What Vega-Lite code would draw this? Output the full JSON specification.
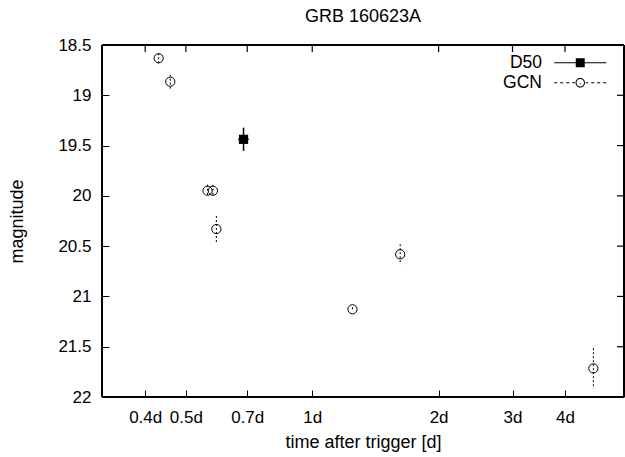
{
  "$schema": "https://vega.github.io/schema/vega-lite/v6.json",
  "width": 522,
  "height": 352,
  "autosize": "none",
  "padding": {"left": 102, "top": 45, "right": 1, "bottom": 60},
  "background": "white",
  "config": {
    "font": "Liberation Sans",
    "view": {"stroke": null},
    "axis": {
      "grid": false,
      "domainColor": "black",
      "tickColor": "black",
      "labelColor": "black",
      "titleColor": "black",
      "labelFontSize": 17,
      "titleFontSize": 18,
      "titleFontWeight": "normal",
      "labelFlush": false,
      "labelOverlap": false,
      "tickSize": -7
    }
  },
  "title": {"text": "GRB 160623A", "fontSize": 18, "fontWeight": "normal", "color": "black", "anchor": "middle", "offset": 10},
  "layer": [
    {
      "data": {"values": [
        {"series": "GCN", "t": 0.4306, "mag": 18.632, "err": 0.05, "terr": 0},
        {"series": "GCN", "t": 0.459, "mag": 18.865, "err": 0.07, "terr": 0},
        {"series": "GCN", "t": 0.563, "mag": 19.949, "err": 0.06, "terr": 0},
        {"series": "GCN", "t": 0.580, "mag": 19.949, "err": 0.06, "terr": 0},
        {"series": "GCN", "t": 0.591, "mag": 20.33, "err": 0.13, "terr": 0},
        {"series": "GCN", "t": 1.247, "mag": 21.128, "err": 0.02, "terr": 0},
        {"series": "GCN", "t": 1.62, "mag": 20.581, "err": 0.1, "terr": 0},
        {"series": "GCN", "t": 4.675, "mag": 21.715, "err": 0.2, "terr": 0},
        {"series": "D50", "t": 0.686, "mag": 19.438, "err": 0.116, "terr": 0.02}
      ]},
      "encoding": {
        "x": {"field": "t", "type": "quantitative",
          "scale": {"type": "log", "domain": [0.3156, 5.53], "nice": false},
          "axis": {"orient": "bottom", "values": [0.4, 0.5, 0.7, 1, 2, 3, 4], "labelExpr": "datum.value + 'd'", "labelPadding": 19, "title": "time after trigger [d]", "titlePadding": 8}},
        "y": {"field": "mag", "type": "quantitative",
          "scale": {"domain": [18.5, 22], "reverse": true, "nice": false, "zero": false},
          "axis": {"orient": "left", "values": [18.5, 19, 19.5, 20, 20.5, 21, 21.5, 22], "labelExpr": "toString(datum.value)", "labelPadding": 18, "title": "magnitude", "titlePadding": 31}}
      },
      "layer": [
        {
          "mark": {"type": "rect", "fill": null, "fillOpacity": 0, "stroke": "black", "strokeWidth": 1},
          "encoding": {
            "x": {"datum": 0.3156, "type": "quantitative"},
            "x2": {"datum": 5.53},
            "y": {"datum": 18.5, "type": "quantitative"},
            "y2": {"datum": 22}
          }
        },
        {
          "transform": [{"filter": "datum.series == 'GCN'"}],
          "mark": {"type": "errorbar", "ticks": false, "rule": {"strokeDash": [2, 2], "color": "black", "strokeWidth": 1}},
          "encoding": {"yError": {"field": "err"}}
        },
        {
          "transform": [{"filter": "datum.series == 'D50'"}],
          "mark": {"type": "errorbar", "ticks": false, "rule": {"color": "black", "strokeWidth": 1.5}},
          "encoding": {"yError": {"field": "err"}}
        },
        {
          "transform": [{"filter": "datum.series == 'D50'"}],
          "mark": {"type": "errorbar", "ticks": false, "rule": {"color": "black", "strokeWidth": 1.5}},
          "encoding": {
            "x": {"field": "t", "type": "quantitative"},
            "xError": {"field": "terr"},
            "y": {"field": "mag", "type": "quantitative"}
          }
        },
        {
          "transform": [{"filter": "datum.series == 'GCN'"}],
          "mark": {"type": "point", "shape": "circle", "size": 85, "filled": false, "color": "black", "strokeWidth": 1, "opacity": 1}
        },
        {
          "transform": [{"filter": "datum.series == 'D50'"}],
          "mark": {"type": "point", "shape": "square", "size": 85, "filled": true, "color": "black", "opacity": 1}
        },
        {
          "mark": {"type": "point", "opacity": 0, "filled": true, "color": "black"},
          "encoding": {
            "shape": {"field": "series", "type": "nominal",
              "scale": {"domain": ["D50", "GCN"], "range": [
                "M-5.2,-0.1H5.2V0.1H-5.2ZM-0.9,-0.9H0.9V0.9H-0.9Z",
                "M-5.2,-0.1H-4.6V0.1H-5.2ZM-4,-0.1H-3.4V0.1H-4ZM-2.8,-0.1H-2.2V0.1H-2.8ZM-1.6,-0.1H-1.1V0.1H-1.6ZM1.1,-0.1H1.6V0.1H1.1ZM2.2,-0.1H2.8V0.1H2.2ZM3.4,-0.1H4V0.1H3.4ZM4.6,-0.1H5.2V0.1H4.6ZM0.95,0A0.95,0.95 0 1,1 -0.95,0A0.95,0.95 0 1,1 0.95,0ZM0.75,0A0.75,0.75 0 1,0 -0.75,0A0.75,0.75 0 1,0 0.75,0ZM-0.1,0.1H0.1V0.3H-0.1Z"
              ]},
              "legend": {"title": null, "orient": "none", "legendX": 469.5, "legendY": 9, "padding": 0, "rowPadding": 1, "symbolSize": 100, "symbolFillColor": "black", "symbolStrokeWidth": 0, "symbolOpacity": 1, "labelFontSize": 17.5, "labelColor": "black", "labelAlign": "right", "labelOffset": -47, "labelFont": "Liberation Sans",
                "encode": {"symbols": {"update": {"fill": {"value": "black"}, "opacity": {"value": 1}, "fillOpacity": {"value": 1}}}}}}
          }
        }
      ]
    },
    {
      "data": {"values": [{"tick": 0.4}, {"tick": 0.5}, {"tick": 0.7}, {"tick": 1}, {"tick": 2}, {"tick": 3}, {"tick": 4}]},
      "mark": {"type": "rule", "color": "black", "strokeWidth": 1.2, "opacity": 1},
      "encoding": {
        "x": {"field": "tick", "type": "quantitative"},
        "y": {"datum": 18.5, "type": "quantitative"},
        "y2": {"datum": 18.57}
      }
    },
    {
      "data": {"values": [{"tick": 19}, {"tick": 19.5}, {"tick": 20}, {"tick": 20.5}, {"tick": 21}, {"tick": 21.5}]},
      "mark": {"type": "rule", "color": "black", "strokeWidth": 1.2, "opacity": 1},
      "encoding": {
        "y": {"field": "tick", "type": "quantitative"},
        "x": {"datum": 5.53, "type": "quantitative"},
        "x2": {"datum": 5.32}
      }
    }
  ]
}
